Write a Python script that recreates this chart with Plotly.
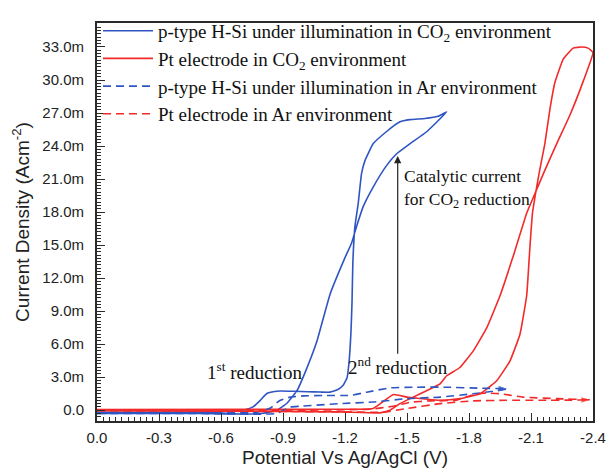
import numpy as np
import plotly.graph_objects as go

# ---- data: potential (V vs Ag/AgCl), current density (mA/cm^2) ----
SI_CO2_V = [0.0, -0.3, -0.6, -0.716, -0.755, -0.79, -0.822, -0.86, -0.885, -0.95, -1.02, -1.08,
            -1.127, -1.166, -1.19, -1.21, -1.22, -1.229, -1.234, -1.238, -1.248, -1.264, -1.28,
            -1.297, -1.336, -1.40, -1.466, -1.514, -1.587, -1.65, -1.692,
            -1.595, -1.514, -1.45, -1.40, -1.337, -1.288, -1.256, -1.232, -1.20, -1.127, -1.064,
            -1.016, -0.968, -0.919, -0.871, -0.803, -0.74, -0.5, 0.0]
SI_CO2_J = [-0.2, -0.2, -0.15, 0.05, 0.3, 0.9, 1.52, 1.7, 1.74, 1.72, 1.68, 1.65,
            1.64, 1.88, 2.24, 2.95, 4.47, 7.16, 9.84, 13.4, 16.7, 18.8, 21.5,
            22.7, 24.2, 25.3, 26.2, 26.4, 26.5, 26.7, 27.1,
            25.3, 24.2, 23.3, 22.2, 20.3, 18.5, 16.7, 15.2, 13.86, 10.5, 6.26,
            3.85, 1.79, 0.63, 0.0, -0.27, -0.35, -0.3, -0.3]

PT_CO2_V = [0.0, -0.6, -1.176, -1.369, -1.417, -1.466, -1.53, -1.587, -1.66, -1.692, -1.756,
            -1.82, -1.885, -1.95, -2.014, -2.079, -2.124, -2.16, -2.224, -2.288, -2.353, -2.4,
            -2.376, -2.345, -2.304, -2.256, -2.216, -2.192, -2.167, -2.143, -2.124, -2.107,
            -2.095, -2.079, -2.046, -1.998, -1.934, -1.853, -1.756, -1.66, -1.563, -1.5,
            -1.434, -1.335, -1.176, 0.0]
PT_CO2_J = [-0.05, -0.1, -0.15, -0.24, 0.0, 0.6, 1.19, 1.7, 2.39, 3.13, 3.88,
            5.37, 7.45, 10.4, 14.0, 17.9, 19.9, 21.5, 24.2, 26.8, 29.9, 32.5,
            32.9, 33.0, 32.9, 31.9, 29.8, 27.4, 24.2, 21.9, 19.9, 17.9,
            14.9, 10.4, 6.86, 4.47, 2.68, 1.49, 1.05, 0.89, 1.07, 1.19,
            1.43, 0.15, 0.09, 0.05]

SI_AR_V = [0.0, -0.5, -0.764, -0.837, -0.885, -0.934, -1.0, -1.093, -1.224, -1.305, -1.417,
           -1.529, -1.692, -1.853, -1.984,
           -1.916, -1.819, -1.66, -1.5, -1.335, -1.176, -0.982, -0.934, -0.87, -0.789, -0.5, 0.0]
SI_AR_J = [-0.22, -0.22, -0.22, 0.18, 0.89, 1.19, 1.3, 1.34, 1.34, 1.64, 2.03,
           2.09, 2.09, 2.0, 1.94,
           1.72, 1.49, 1.19, 1.05, 0.74, 0.6, 0.36, 0.29, -0.3, -0.36, -0.3, -0.3]
SI_AR_TURN = 14

PT_AR_V = [0.0, -0.74, -1.176, -1.384, -1.5, -1.66, -1.82, -1.98, -2.143, -2.3, -2.385,
           -2.224, -2.061, -1.95, -1.867, -1.8, -1.74, -1.61, -1.514, -1.432, -1.32, -0.982, 0.0]
PT_AR_J = [-0.05, -0.09, -0.15, -0.18, 0.15, 0.6, 0.85, 0.9, 0.9, 0.92, 0.95,
           1.05, 1.19, 1.5, 1.55, 1.3, 0.92, 0.85, 0.72, 0.36, 0.09, 0.0, 0.0]
PT_AR_TURN = 10

X_TICKS = [0.0, -0.3, -0.6, -0.9, -1.2, -1.5, -1.8, -2.1, -2.4]
X_TICK_LABELS = ["0.0", "-0.3", "-0.6", "-0.9", "-1.2", "-1.5", "-1.8", "-2.1", "-2.4"]
Y_TICKS_MA = [0, 3, 6, 9, 12, 15, 18, 21, 24, 27, 30, 33]
Y_TICK_LABELS = ["0.0", "3.0m", "6.0m", "9.0m", "12.0m", "15.0m", "18.0m", "21.0m",
                 "24.0m", "27.0m", "30.0m", "33.0m"]

NAMES = ["p-type H-Si under illumination in CO<sub>2</sub> environment",
         "Pt electrode in CO<sub>2</sub> environment",
         "p-type H-Si under illumination in Ar environment",
         "Pt electrode in Ar environment"]

BLUE = "#2F55C2"
RED = "#F22A2A"
SERIF = "Liberation Serif, Times New Roman, serif"
SANS = "Liberation Sans, Arial, sans-serif"


def amps(values):
    return (np.array(values) * 1e-3).tolist()


fig = go.Figure()
series = [
    (SI_CO2_V, SI_CO2_J, BLUE, "solid"),
    (PT_CO2_V, PT_CO2_J, RED, "solid"),
    (SI_AR_V, SI_AR_J, BLUE, "8px,5px"),
    (PT_AR_V, PT_AR_J, RED, "8px,5px"),
]
for (v, j, c, d), name in zip(series, NAMES):
    fig.add_trace(go.Scatter(x=v, y=amps(j), mode="lines", name=name,
                             line=dict(color=c, width=1.6, dash=d, shape="spline", smoothing=0.35)))

# arrow heads at the turning points of the Ar scans
for v, j, k, c in [(SI_AR_V, SI_AR_J, SI_AR_TURN, BLUE), (PT_AR_V, PT_AR_J, PT_AR_TURN, RED)]:
    fig.add_trace(go.Scatter(x=[v[k - 1], v[k]], y=amps([j[k - 1], j[k]]), mode="markers",
                             showlegend=False, hoverinfo="skip",
                             marker=dict(symbol="arrow", angleref="previous", size=[0, 9],
                                         color=c, line=dict(width=0))))

# annotations
fig.add_annotation(x=-1.455, y=23.1e-3, ax=-1.455, ay=5.0e-3, xref="x", yref="y",
                   axref="x", ayref="y", text="", showarrow=True, arrowhead=2,
                   arrowsize=1.2, arrowwidth=1.2, arrowcolor="#222")
fig.add_annotation(x=-1.474, y=20.15e-3, xref="x", yref="y", xanchor="left", yanchor="middle",
                   align="left", showarrow=False,
                   text="Catalytic current<br>for CO<sub>2</sub> reduction",
                   font=dict(family=SERIF, size=17.5, color="#111"))
fig.add_annotation(x=-0.764, y=3.6e-3, xref="x", yref="y", showarrow=False,
                   text="1<sup>st</sup> reduction", font=dict(family=SERIF, size=19, color="#111"))
fig.add_annotation(x=-1.456, y=4.05e-3, xref="x", yref="y", showarrow=False,
                   text="2<sup>nd</sup> reduction", font=dict(family=SERIF, size=19, color="#111"))

axis_common = dict(showgrid=False, zeroline=False, showline=True, linewidth=2,
                   linecolor="#2a2a2a", mirror=True, ticks="inside", tickcolor="#2a2a2a",
                   tickwidth=1.2, automargin=False,
                   tickfont=dict(family=SANS, size=15, color="#222"))

fig.update_layout(
    width=606, height=468,
    margin=dict(l=97, r=13, t=17, b=47),
    paper_bgcolor="white", plot_bgcolor="white",
    font=dict(family=SANS, color="#222"),
    xaxis=dict(range=[0, -2.4], tickmode="array", tickvals=X_TICKS, ticktext=X_TICK_LABELS,
               ticklen=8, ticklabelstandoff=2,
               minor=dict(tickmode="linear", tick0=0, dtick=0.03, ticks="inside", ticklen=4,
                          tickcolor="#2a2a2a", tickwidth=1),
               title=dict(text="Potential Vs Ag/AgCl (V)", font=dict(family=SANS, size=19),
                          standoff=18),
               **axis_common),
    yaxis=dict(range=[-0.98e-3, 35.18e-3], tickmode="array", tickvals=amps(Y_TICKS_MA),
               ticktext=Y_TICK_LABELS, ticklen=8, ticklabelstandoff=8,
               minor=dict(tickmode="linear", tick0=0, dtick=0.3e-3, ticks="inside", ticklen=4,
                          tickcolor="#2a2a2a", tickwidth=1),
               title=dict(text="Current Density (Acm<sup>-2</sup>)",
                          font=dict(family=SANS, size=19), standoff=8),
               **axis_common),
    legend=dict(x=0.002, y=1.028, xanchor="left", yanchor="top", bgcolor="rgba(0,0,0,0)",
                font=dict(family=SERIF, size=19, color="#111"), tracegroupgap=0,
                itemwidth=50),
    showlegend=True,
)

fig.write_html("out.html", config={"displayModeBar": False},
               post_script="document.body.style.margin='0';document.body.style.overflow='hidden';")
